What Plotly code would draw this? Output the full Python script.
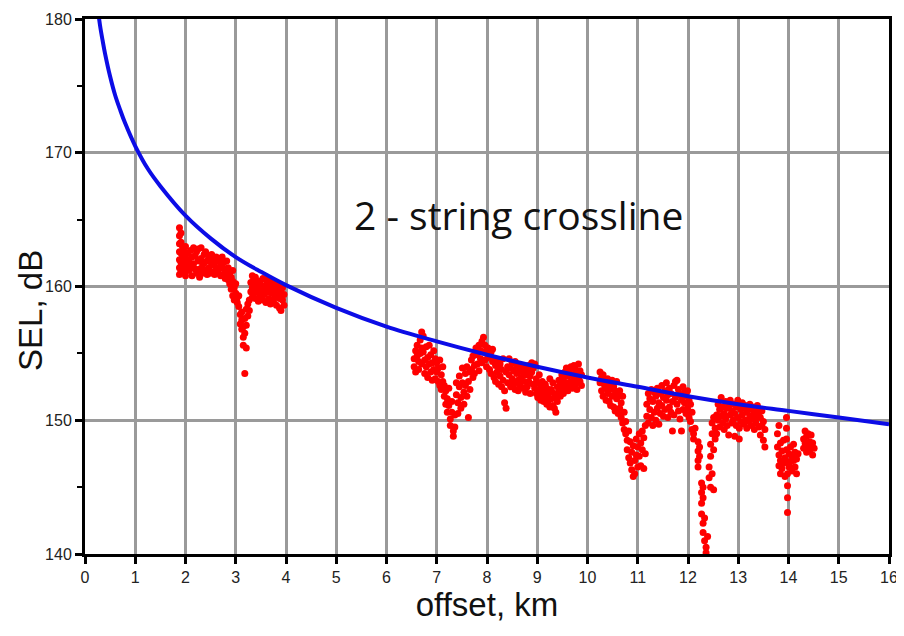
import plotly.graph_objects as go

# ---------------- data ----------------
# model curve
curve_offset = [0.25, 0.3, 0.35, 0.4, 0.5, 0.6, 0.7, 0.8, 1.0, 1.25, 1.5, 2, 2.5, 3, 3.5, 4,
                5, 6, 7, 8, 9, 10, 11, 12, 13, 14, 15, 16]
curve_sel = [180.9, 179.5, 178.4, 177.4, 175.7, 174.3, 173.2, 172.2, 170.5, 168.8, 167.5, 165.3,
             163.6, 162.2, 161.1, 160.1, 158.4, 157.0, 155.9, 154.9, 154.0, 153.2, 152.5, 151.8,
             151.2, 150.7, 150.2, 149.7]

# measured SEL, segment 1 (about 1.9-4 km)
seg1_offset = [1.88]*7 + [1.91]*5 + [1.94]*3 + [1.97]*3 + [2.00]*4 + [
    2.04, 2.04, 2.07, 2.07, 2.10, 2.10, 2.13, 2.13, 2.16, 2.16, 2.19, 2.19, 2.22, 2.22, 2.25, 2.25,
    2.28, 2.28, 2.31, 2.31, 2.34, 2.34, 2.37, 2.37, 2.40, 2.40, 2.43, 2.43, 2.46, 2.46, 2.49, 2.49,
    2.52, 2.52, 2.55, 2.55, 2.58, 2.58, 2.61, 2.61, 2.64, 2.64, 2.67, 2.67, 2.70, 2.70, 2.73, 2.73,
    2.76, 2.76, 2.79, 2.79, 2.82, 2.82, 2.85, 2.85, 2.88, 2.88, 2.91, 2.91, 2.94, 2.94, 2.94,
    2.97, 2.97, 3.00, 3.00, 3.03, 3.03, 3.06, 3.06, 3.09, 3.09, 3.12, 3.12, 3.12, 3.15, 3.15, 3.15,
    3.18, 3.18, 3.18, 3.21, 3.21, 3.21, 3.24, 3.24, 3.27, 3.27, 3.30, 3.30, 3.33, 3.33, 3.33,
    3.36, 3.36, 3.39, 3.39, 3.39, 3.42, 3.42, 3.45, 3.45, 3.48, 3.48, 3.51, 3.51, 3.54, 3.54,
    3.57, 3.57, 3.60, 3.60, 3.63, 3.63, 3.66, 3.66, 3.69, 3.69, 3.72, 3.72, 3.75, 3.75, 3.78, 3.78,
    3.81, 3.81, 3.84, 3.84, 3.87, 3.87, 3.90, 3.90, 3.93, 3.93, 3.96, 3.96]
seg1_sel = [164.4, 163.8, 163.2, 162.6, 162.0, 161.4, 160.9,
            164.0, 163.3, 162.5, 161.8, 161.1,
            163.0, 162.3, 161.5,
            162.6, 161.8, 161.0,
            163.0, 162.2, 161.4, 160.8,
            162.5, 161.6, 161.2, 162.0, 162.7, 161.5, 162.2, 160.8, 161.7, 162.9, 161.3, 162.3,
            161.0, 162.6, 161.9, 162.8, 161.3, 160.7, 162.1, 162.9, 161.6, 161.0, 162.4, 161.8,
            161.2, 162.6, 161.9, 160.9, 162.3, 161.4, 162.0, 161.0, 161.6, 162.4, 161.1, 162.0,
            161.8, 160.9, 162.2, 161.4, 161.0, 161.9, 162.1, 161.3, 160.8, 161.7, 161.5, 162.2,
            160.9, 161.8, 161.2, 160.6, 161.9, 161.0, 160.5, 161.4, 161.0, 160.2, 160.7, 159.8,
            160.4, 159.3, 161.2, 159.9, 159.0, 160.2, 159.5, 159.2, 158.8, 158.5, 159.3,
            157.9, 157.2, 158.1, 156.8, 157.5, 156.2, 155.6, 157.0, 157.6, 156.5, 153.5,
            158.3, 157.1, 155.4, 158.7, 157.8, 159.0, 158.2, 160.3, 159.6, 160.8, 159.9, 159.2,
            160.5, 159.5, 160.0, 159.1, 160.7, 159.6, 160.3, 158.9, 159.8, 160.4, 159.3,
            159.7, 160.1, 159.0, 160.6, 159.9, 159.4, 160.5, 158.8, 159.6, 160.2, 159.1, 159.9,
            160.4, 158.7, 159.5, 160.0, 158.9, 159.7, 160.2, 159.2, 158.6, 159.8, 159.4, 160.1,
            158.4, 159.1, 159.7, 158.2, 159.0, 159.9, 158.6, 159.4]

# measured SEL, segment 2 (about 6.5-9.9 km)
seg2_offset = [6.55, 6.55, 6.58, 6.58, 6.61, 6.61, 6.64, 6.64, 6.67, 6.67, 6.70, 6.70, 6.70,
               6.73, 6.73, 6.76, 6.76, 6.79, 6.79, 6.82, 6.82, 6.85, 6.85, 6.88, 6.88, 6.91, 6.91,
               6.94, 6.94, 6.97, 6.97, 7.00, 7.00, 7.03, 7.03, 7.06, 7.06, 7.09, 7.09, 7.12, 7.12,
               7.15, 7.15, 7.18, 7.18, 7.21, 7.21, 7.24, 7.24, 7.27, 7.27, 7.30, 7.30, 7.33, 7.33,
               7.36, 7.36, 7.39, 7.39, 7.42, 7.42, 7.45, 7.45, 7.48, 7.48, 7.51, 7.51, 7.54, 7.54,
               7.57, 7.57, 7.60, 7.60, 7.63, 7.63, 7.66, 7.66, 7.69, 7.69, 7.72, 7.72, 7.75, 7.75,
               7.78, 7.78, 7.81, 7.81, 7.84, 7.84, 7.87, 7.87, 7.90, 7.90, 7.93, 7.93, 7.96, 7.96,
               7.99, 7.99, 8.02, 8.02, 8.05, 8.05, 8.08, 8.08, 8.11, 8.11, 8.14, 8.14, 8.17, 8.17,
               8.20, 8.20, 8.23, 8.23, 8.26, 8.26, 8.29, 8.29, 8.32, 8.32, 8.35, 8.35, 8.38, 8.38,
               8.41, 8.41, 8.44, 8.44, 8.47, 8.47, 8.50, 8.50, 8.53, 8.53, 8.56, 8.56, 8.59, 8.59,
               8.62, 8.62, 8.65, 8.65, 8.68, 8.68, 8.71, 8.71, 8.74, 8.74, 8.77, 8.77, 8.80, 8.80,
               8.83, 8.83, 8.86, 8.86, 8.89, 8.89, 8.92, 8.92, 8.95, 8.95, 8.98, 8.98, 9.01, 9.01,
               9.04, 9.04, 9.07, 9.07, 9.10, 9.10, 9.13, 9.13, 9.16, 9.16, 9.19, 9.19, 9.22, 9.22,
               9.25, 9.25, 9.28, 9.28, 9.31, 9.31, 9.34, 9.34, 9.37, 9.37, 9.40, 9.40, 9.43, 9.43,
               9.46, 9.46, 9.49, 9.49, 9.52, 9.52, 9.55, 9.55, 9.58, 9.58, 9.61, 9.61, 9.64, 9.64,
               9.67, 9.67, 9.70, 9.70, 9.73, 9.73, 9.76, 9.76, 9.79, 9.79, 9.82, 9.82, 9.85, 9.85,
               9.88, 9.88]
seg2_sel = [154.6, 154.0, 155.2, 153.6, 154.8, 155.6, 153.8, 154.4, 156.0, 155.0, 156.6, 155.4, 154.2,
            156.3, 155.1, 154.5, 153.5, 155.5, 154.0, 153.2, 154.7, 155.6, 154.2, 153.6, 154.9,
            154.3, 153.0, 155.2, 153.8, 154.6, 153.1, 153.6, 154.3, 152.9, 153.9, 154.5, 152.6,
            153.4, 152.3, 154.0, 152.9, 151.8, 152.6, 151.2, 152.2, 150.6, 151.6, 152.4, 151.1,
            150.1, 149.6, 151.4, 150.6, 149.2, 148.8, 150.4, 149.5, 151.9, 152.8, 151.3, 150.5,
            152.5, 153.3, 151.7, 150.9, 153.9, 152.8, 152.1, 151.2, 153.5, 152.6, 154.0, 151.8,
            150.2, 152.9, 153.6, 152.3, 154.5, 153.8, 153.2, 154.8, 154.1, 153.5, 154.9, 155.4,
            154.2, 155.0, 153.7, 155.6, 154.6, 155.2, 155.9, 154.3, 155.1, 156.2, 155.6, 154.5,
            155.2, 154.0, 154.7, 155.4, 153.8, 154.9, 155.1, 153.5, 154.4, 155.3, 153.2, 154.6,
            154.1, 152.9, 153.6, 154.5, 152.7, 153.9, 154.2, 153.3, 152.5, 153.8, 154.6, 153.0,
            151.3, 152.2, 150.9, 153.6, 154.0, 152.8, 153.4, 154.6, 152.5, 153.9, 154.3, 153.1,
            152.7, 153.7, 154.4, 152.3, 153.5, 154.1, 152.2, 153.0, 153.8, 152.6, 154.0, 153.2,
            152.4, 153.6, 153.9, 152.9, 152.1, 153.4, 153.7, 152.5, 154.1, 152.9, 153.3, 152.0,
            154.3, 153.6, 152.7, 153.9, 154.2, 152.4, 153.1, 152.0, 151.7, 152.8, 153.4, 152.2,
            151.5, 152.6, 152.9, 151.9, 151.4, 152.3, 152.7, 151.8, 151.2, 152.4, 152.0, 151.5,
            153.1, 151.0, 152.3, 151.6, 151.1, 152.8, 152.0, 150.9, 150.6, 151.7, 152.5, 151.4,
            153.0, 152.1, 151.8, 152.7, 153.4, 152.3, 152.0, 153.1, 153.6, 152.5, 152.8, 153.9,
            152.2, 153.3, 153.7, 152.6, 152.9, 154.0, 153.4, 152.4, 154.1, 153.0, 153.8, 152.7,
            152.3, 153.5, 154.2, 153.1, 152.9, 153.7, 153.4, 152.6]

# measured SEL, segment 3 (about 10.2-14.5 km)
seg3_offset = [10.25, 10.25, 10.28, 10.28, 10.31, 10.31, 10.34, 10.34, 10.37, 10.37, 10.40, 10.40,
               10.43, 10.43, 10.46, 10.46, 10.49, 10.49, 10.52, 10.52, 10.55, 10.55, 10.58, 10.58,
               10.61, 10.61, 10.64, 10.64, 10.67, 10.67, 10.70, 10.70, 10.73, 10.73, 10.76, 10.76,
               10.79, 10.79, 10.82, 10.82, 10.85, 10.85, 10.88, 10.88, 10.91, 10.91, 10.94, 10.94,
               10.97, 10.97, 11.00, 11.00, 11.03, 11.03, 11.06, 11.06, 11.09, 11.09, 11.12, 11.12,
               11.15, 11.15, 11.18, 11.18, 11.21, 11.21, 11.24, 11.24, 11.27, 11.27, 11.30, 11.30,
               11.33, 11.33, 11.36, 11.36, 11.39, 11.39, 11.42, 11.42, 11.45, 11.45, 11.48, 11.48,
               11.51, 11.51, 11.54, 11.54, 11.57, 11.57, 11.60, 11.60, 11.63, 11.63, 11.66, 11.66,
               11.69, 11.69, 11.72, 11.72, 11.75, 11.75, 11.78, 11.78, 11.81, 11.81, 11.84, 11.84,
               11.87, 11.87, 11.90, 11.90, 11.93, 11.93, 11.96, 11.96, 11.99, 11.99, 12.02, 12.02,
               12.05, 12.05, 12.08, 12.08, 12.11, 12.11, 12.14,
               12.20, 12.20, 12.20, 12.20, 12.23, 12.23, 12.27, 12.27, 12.27, 12.27,
               12.30, 12.30, 12.30, 12.30, 12.33, 12.33, 12.36, 12.36, 12.39,
               12.42, 12.42, 12.45, 12.45, 12.45, 12.48, 12.48, 12.48, 12.51, 12.51, 12.51,
               12.54, 12.54, 12.57, 12.57, 12.60, 12.60, 12.63, 12.63, 12.66, 12.66, 12.69, 12.69,
               12.72, 12.72, 12.75, 12.75, 12.78, 12.78, 12.81, 12.81, 12.84, 12.84, 12.87, 12.87,
               12.90, 12.90, 12.93, 12.93, 12.96, 12.96, 12.99, 12.99, 13.02, 13.02, 13.05, 13.05,
               13.08, 13.08, 13.11, 13.11, 13.14, 13.14, 13.17, 13.17, 13.20, 13.20, 13.23, 13.23,
               13.26, 13.26, 13.29, 13.29, 13.32, 13.32, 13.35, 13.35, 13.38, 13.38, 13.41, 13.41,
               13.44, 13.44, 13.47, 13.47, 13.50, 13.50, 13.53, 13.53,
               13.78, 13.78, 13.81, 13.81, 13.81, 13.84, 13.84, 13.84, 13.87, 13.87, 13.90, 13.90,
               13.93, 13.93, 13.96, 13.96, 13.96, 13.96, 13.98, 13.98, 13.98, 13.98, 13.98,
               14.01, 14.01, 14.04, 14.04, 14.07, 14.07, 14.10, 14.10, 14.13, 14.13, 14.16, 14.16,
               14.19, 14.30, 14.30, 14.33, 14.33, 14.36, 14.36, 14.39, 14.39, 14.42, 14.42,
               14.45, 14.45, 14.48, 14.48, 14.51]
seg3_sel = [153.6, 152.8, 152.2, 153.2, 153.4, 151.8, 152.6, 153.0, 151.5, 152.4, 153.1, 152.0,
            151.4, 152.7, 152.3, 151.1, 153.0, 151.8, 151.0, 152.5, 152.2, 150.7, 151.6, 152.9,
            150.5, 151.9, 152.2, 150.9, 151.3, 150.2, 151.8, 149.8, 150.6, 149.3, 149.0, 149.9,
            148.5, 147.8, 149.2, 147.2, 146.8, 148.4, 147.6, 146.3, 145.8, 148.1, 147.0, 146.0,
            148.6, 147.4, 146.5, 148.0, 147.3, 149.0, 146.6, 148.3, 147.8, 149.2, 146.4, 148.7,
            149.6, 147.5, 151.2, 150.3, 152.0, 149.8, 150.8, 151.6, 152.3, 150.2, 151.4, 149.6,
            150.6, 152.1, 151.8, 150.0, 152.4, 150.9, 149.7, 151.3, 152.0, 150.5, 151.1, 152.6,
            150.3, 151.7, 152.2, 150.8, 151.5, 152.8, 150.2, 151.9, 152.4, 151.0, 150.6, 152.0,
            149.2, 151.4, 152.6, 150.4, 151.7, 152.9, 153.0, 151.2, 150.7, 152.3, 151.9, 150.1,
            149.2, 151.5, 152.5, 150.8, 151.3, 152.1, 150.5, 151.8, 152.2, 150.9, 151.5, 150.2,
            149.9, 151.2, 149.3, 150.6, 149.0, 148.6, 149.4,
            148.4, 147.7, 147.0, 146.5, 148.0, 147.3, 145.3, 144.6, 143.8, 143.0,
            142.3, 141.6, 144.2, 145.0, 142.7, 141.0, 140.5, 140.1, 141.3,
            145.7, 146.5, 147.3, 148.2, 145.0, 149.0, 149.8, 146.0, 150.2, 147.8, 144.8,
            149.4, 148.6, 150.4, 149.0, 151.2, 150.0, 149.5, 150.8, 151.7, 150.3, 149.8, 151.0,
            150.5, 149.3, 151.4, 150.1, 149.6, 150.9, 151.0, 148.9, 150.4, 151.5, 149.8, 150.7,
            151.2, 150.0, 148.8, 150.5, 151.0, 149.6, 150.2, 151.5, 149.4, 148.6, 150.8, 149.9,
            151.3, 150.4, 149.7, 150.9, 151.1, 150.0, 149.4, 150.6, 150.9, 149.9, 151.2, 150.3,
            149.6, 150.8, 150.1, 151.0, 149.3, 150.5, 150.8, 149.8, 151.1, 150.2, 149.5, 150.6,
            150.2, 148.9, 149.6, 150.7, 148.5, 149.9, 148.0, 149.3,
            149.0, 148.0, 149.6, 147.4, 146.6, 148.3, 147.0, 146.0, 147.7, 146.4, 148.5, 146.8,
            147.2, 145.8, 150.2, 149.4, 148.6, 147.8, 146.9, 146.0, 145.1, 144.2, 143.1,
            147.5, 146.5, 148.0, 146.9, 147.3, 146.2, 148.2, 147.0, 146.5, 147.6, 147.1, 146.0,
            147.5, 148.6, 147.9, 149.2, 148.3, 148.8, 147.6, 149.0, 148.1, 148.4, 147.7,
            148.9, 148.0, 147.4, 148.3, 147.9]

x_ticks = list(range(0, 17))
y_ticks = [140, 150, 160, 170, 180]
annotation_text = "2 - string crossline"
x_title = "offset, km"
y_title = "SEL, dB"

# ---------------- figure ----------------
fig = go.Figure()

red = "#ff0000"
for xs, ys in [(seg1_offset, seg1_sel), (seg2_offset, seg2_sel), (seg3_offset, seg3_sel)]:
    fig.add_trace(go.Scatter(x=xs, y=ys, mode="markers",
                             marker=dict(color=red, size=7, line=dict(width=0)),
                             showlegend=False, hoverinfo="x+y"))

fig.add_trace(go.Scatter(x=curve_offset, y=curve_sel, mode="lines", line_shape="spline",
                         line=dict(color="#0c0ce6", width=4), showlegend=False))

tick_font = dict(family="Liberation Sans, Arial, sans-serif", size=16, color="#222222")
title_font = dict(family="Liberation Sans, Arial, sans-serif", size=33, color="#111111")

fig.update_xaxes(range=[0, 16], tickvals=x_ticks, ticktext=[str(t) for t in x_ticks],
                 showgrid=True, gridcolor="#9a9a9a", gridwidth=2.5,
                 showline=True, linecolor="black", linewidth=3, mirror=True,
                 ticks="outside", ticklen=7, tickwidth=3, tickcolor="black",
                 tickfont=tick_font, zeroline=False, automargin=False,
                 title=dict(text=x_title, font=title_font, standoff=8))
fig.update_yaxes(range=[140, 180], tickvals=y_ticks, ticktext=[str(t) for t in y_ticks],
                 showgrid=True, gridcolor="#9a9a9a", gridwidth=2.5,
                 showline=True, linecolor="black", linewidth=3, mirror=True,
                 ticks="outside", ticklen=7, tickwidth=3, tickcolor="black",
                 tickfont=tick_font, zeroline=False, automargin=False,
                 minor=dict(dtick=5, ticks="outside", ticklen=5, tickwidth=2,
                            tickcolor="black", showgrid=False))

# y-axis title placed a little below the plot's middle, as in the original
fig.add_annotation(x=-0.068, y=158.2, xref="paper", yref="y", text=y_title,
                   textangle=-90, showarrow=False, xanchor="center", yanchor="middle",
                   font=title_font)

fig.add_annotation(x=8.62, y=165.35, xref="x", yref="y", text=annotation_text,
                   showarrow=False,
                   font=dict(family="Open Sans, sans-serif", size=39, color="#111111"))

# the page body adds an 8 px margin, so the figure is made 8 px smaller on each axis
fig.update_layout(width=896, height=628,
                  margin=dict(l=77, r=15, t=11, b=82),
                  plot_bgcolor="white", paper_bgcolor="white")

fig.write_html("out.html")
